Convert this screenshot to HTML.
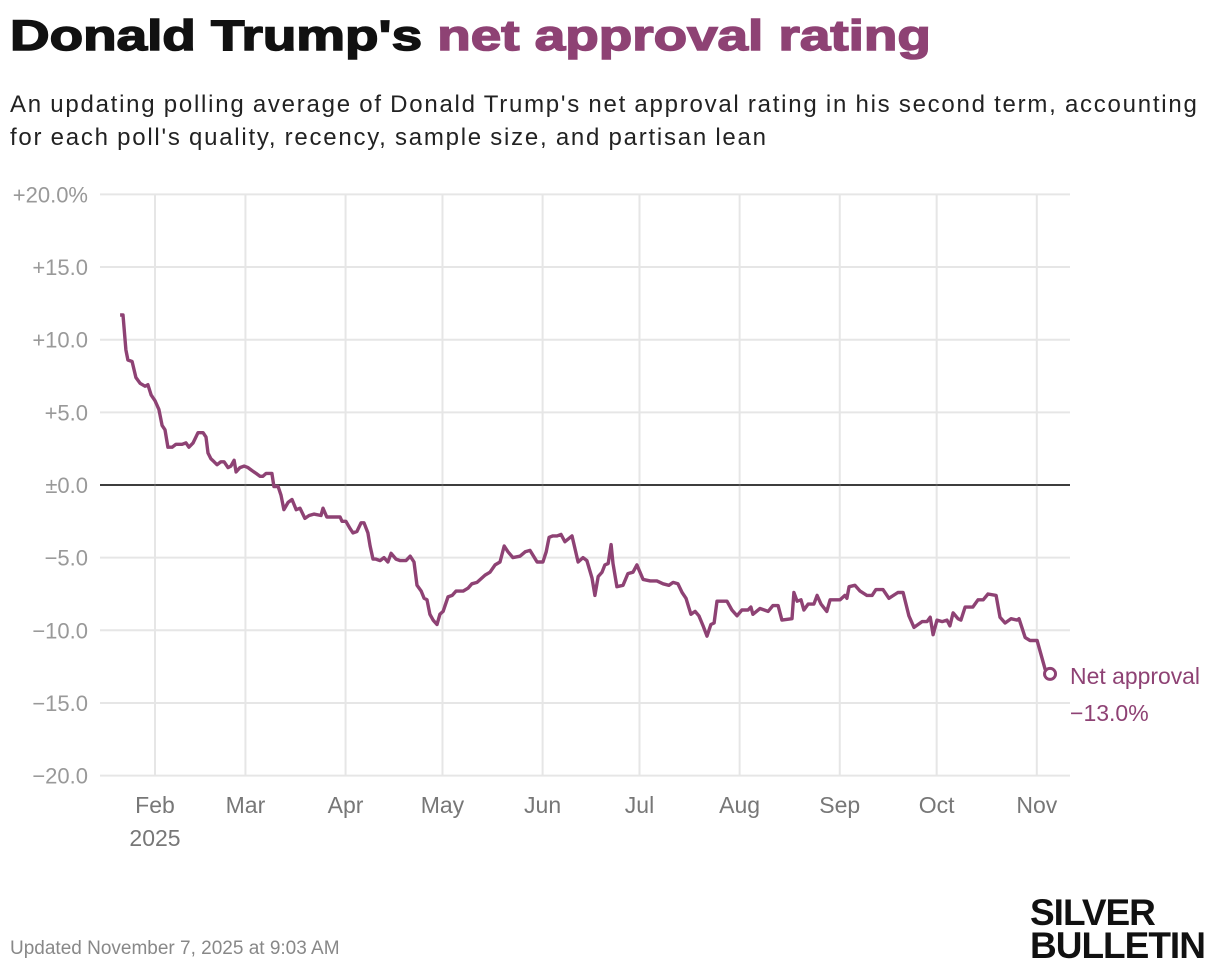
<!DOCTYPE html>
<html><head><meta charset="utf-8"><style>
body{margin:0;background:#fff;width:1220px;height:972px;overflow:hidden;font-family:"Liberation Sans",sans-serif}
.t{position:absolute;left:10px;top:12px;font-size:43px;font-weight:900;color:#111;-webkit-text-stroke:1.5px #111;transform:scaleX(1.275);transform-origin:left top;white-space:nowrap}
.t span{color:#8e4274;-webkit-text-stroke:1.5px #8e4274}
.s{position:absolute;left:10px;top:88px;font-size:24px;line-height:33px;color:#222;width:1210px;letter-spacing:1.75px;word-spacing:-1px;white-space:nowrap}
.u{position:absolute;left:10px;top:938px;font-size:19px;color:#888}
.logo{position:absolute;left:1030px;top:896px;font-size:37px;font-weight:900;line-height:33px;color:#111;text-align:left;letter-spacing:-1px}
</style></head><body>
<div class="t">Donald Trump's <span>net approval rating</span></div>
<div class="s">An updating polling average of Donald Trump's net approval rating in his second term, accounting<br>for each poll's quality, recency, sample size, and partisan lean</div>
<svg id="c" width="1220" height="972" style="position:absolute;left:0;top:0"></svg>
<div class="u">Updated November 7, 2025 at 9:03 AM</div>
<div class="logo">SILVER<br>BULLETIN</div>
<script>
const days=[20.2,21.1,22.0,22.6,23.9,25.1,26.4,27.9,28.8,29.8,31.0,32.2,33.2,34.1,35.0,36.3,37.5,39.4,40.6,41.5,42.8,44.3,45.9,46.8,47.4,48.3,49.3,50.2,51.4,52.4,53.6,54.5,55.5,56.1,57.3,58.6,59.8,61.0,62.3,63.5,64.4,65.4,67.2,67.8,69.1,70.0,70.9,72.2,73.4,74.7,75.9,77.4,78.7,80.2,82.4,83.0,84.2,86.4,88.3,88.9,90.1,91.4,92.3,93.5,94.8,95.7,96.9,97.6,98.5,99.4,100.7,101.9,103.1,104.1,105.6,106.9,108.7,110.0,111.2,112.1,113.4,114.3,115.2,116.1,117.1,118.3,119.2,120.2,121.7,123.0,124.2,126.4,127.9,129.1,130.7,133.2,134.7,136.3,137.8,139.1,140.3,141.8,144.0,145.6,147.1,149.3,151.1,152.1,153.0,154.2,155.5,156.7,157.9,160.1,162.0,163.5,164.7,166.3,167.2,168.2,169.4,170.3,171.3,172.2,172.8,174.0,175.9,177.4,179.0,180.2,182.1,184.3,186.4,188.3,190.1,191.4,192.9,194.2,195.4,196.9,198.2,199.4,200.7,201.9,203.1,204.1,205.0,208.1,209.6,211.2,212.7,214.6,215.5,216.1,218.3,220.8,222.3,223.9,225.1,228.2,228.8,229.8,231.0,231.9,233.2,235.0,236.0,237.2,239.0,240.0,243.1,244.6,245.2,245.9,247.7,249.3,251.4,253.0,254.2,256.4,258.2,261.0,262.6,264.4,266.0,268.5,270.0,271.0,271.9,273.1,274.7,276.2,277.1,278.1,279.6,280.5,281.8,284.2,285.8,287.4,288.9,291.4,292.6,294.2,296.0,297.9,298.5,300.4,301.9,304.1,306.6,308.1];
const netApproval=[11.7,11.7,9.3,8.6,8.5,7.4,7.0,6.8,6.9,6.2,5.8,5.2,4.1,3.8,2.6,2.6,2.8,2.8,2.9,2.6,2.9,3.6,3.6,3.3,2.2,1.8,1.6,1.4,1.6,1.6,1.2,1.3,1.7,0.9,1.2,1.3,1.2,1.0,0.8,0.6,0.6,0.8,0.8,-0.1,-0.1,-0.7,-1.7,-1.2,-1.0,-1.7,-1.6,-2.3,-2.1,-2.0,-2.1,-1.6,-2.2,-2.2,-2.2,-2.5,-2.5,-3.0,-3.3,-3.2,-2.6,-2.6,-3.3,-4.2,-5.1,-5.1,-5.2,-5.0,-5.3,-4.7,-5.1,-5.2,-5.2,-4.9,-5.3,-6.9,-7.3,-7.8,-7.9,-8.9,-9.3,-9.6,-8.9,-8.7,-7.7,-7.6,-7.3,-7.3,-7.1,-6.8,-6.7,-6.2,-6.0,-5.5,-5.3,-4.2,-4.6,-5.0,-4.9,-4.6,-4.5,-5.3,-5.3,-4.6,-3.6,-3.5,-3.5,-3.4,-3.9,-3.5,-5.3,-5.0,-5.2,-6.4,-7.6,-6.3,-6.0,-5.5,-5.4,-4.1,-5.4,-7.0,-6.9,-6.1,-6.0,-5.5,-6.5,-6.6,-6.6,-6.8,-6.9,-6.7,-6.8,-7.4,-7.8,-8.9,-8.7,-9.0,-9.7,-10.4,-9.6,-9.5,-8.0,-8.0,-8.6,-9.0,-8.6,-8.6,-8.4,-8.9,-8.5,-8.7,-8.3,-8.3,-9.3,-9.2,-7.4,-8.0,-7.9,-8.6,-8.2,-8.2,-7.6,-8.2,-8.7,-7.9,-7.9,-7.6,-7.8,-7.0,-6.9,-7.3,-7.6,-7.6,-7.2,-7.2,-7.8,-7.4,-7.4,-9.0,-9.8,-9.4,-9.4,-9.1,-10.3,-9.3,-9.4,-9.3,-9.7,-8.8,-9.2,-9.3,-8.4,-8.4,-7.9,-7.9,-7.5,-7.6,-9.1,-9.5,-9.2,-9.3,-9.2,-10.5,-10.7,-10.7,-12.7,-13.0];
const yTicks=[20,15,10,5,0,-5,-10,-15,-20];
const yTickLabels=["+20.0%","+15.0","+10.0","+5.0","±0.0","−5.0","−10.0","−15.0","−20.0"];
const monthDays=[31,59,90,120,151,181,212,243,273,304];
const monthLabels=["Feb","Mar","Apr","May","Jun","Jul","Aug","Sep","Oct","Nov"];
const NS="http://www.w3.org/2000/svg",svg=document.getElementById('c');
const X=d=>155+(d-31)*3.23, Y=v=>485-v*14.53;
function mk(t,a,p){const e=document.createElementNS(NS,t);for(const k in a)e.setAttribute(k,a[k]);(p||svg).appendChild(e);return e;}
const F='"Liberation Sans",sans-serif';
yTicks.forEach((v,i)=>{
 const l=mk('line',{x1:100,x2:1070,y1:Y(v),y2:Y(v),stroke:v===0?'#222':'#e6e6e6','stroke-width':v===0?1.5:2});
 
 
 const t=mk('text',{x:88,y:Y(v)+8,'text-anchor':'end','font-size':22,fill:'#999','font-family':F});
 t.textContent=yTickLabels[i];
 
 
});
monthDays.forEach((d,i)=>{
 const l=mk('line',{x1:X(d),x2:X(d),y1:194,y2:775,stroke:'#e6e6e6','stroke-width':2});
 
 
 const t=mk('text',{x:X(d),y:813,'text-anchor':'middle','font-size':23,fill:'#777','font-family':F});
 t.textContent=monthLabels[i];
 
 
});
const yr=mk('text',{x:X(31),y:846,'text-anchor':'middle','font-size':23,fill:'#777','font-family':F});
yr.textContent='2025';


const z=mk('line',{x1:100,x2:1070,y1:Y(0),y2:Y(0),stroke:'#222','stroke-width':1.5});


const p=mk('path',{d:days.map((d,i)=>(i?'L':'M')+X(d).toFixed(1)+','+Y(netApproval[i]).toFixed(1)).join(''),fill:'none',stroke:'#8e4274','stroke-width':3.4,'stroke-linejoin':'round'});


const n=days.length-1,lx=X(days[n]),ly=Y(netApproval[n]);
const c=mk('circle',{cx:lx,cy:ly,r:5.5,fill:'#fff',stroke:'#8e4274','stroke-width':3});


const t1=mk('text',{x:lx+20,y:ly+10,'font-size':23,fill:'#8e4274','font-family':F,textLength:130,lengthAdjust:'spacingAndGlyphs'});
t1.textContent='Net approval';


const t2=mk('text',{x:lx+20,y:ly+47,'font-size':23,fill:'#8e4274','font-family':F});
t2.textContent=(netApproval[n]<0?'−':'+')+Math.abs(netApproval[n]).toFixed(1)+'%';


</script>
</body></html>
